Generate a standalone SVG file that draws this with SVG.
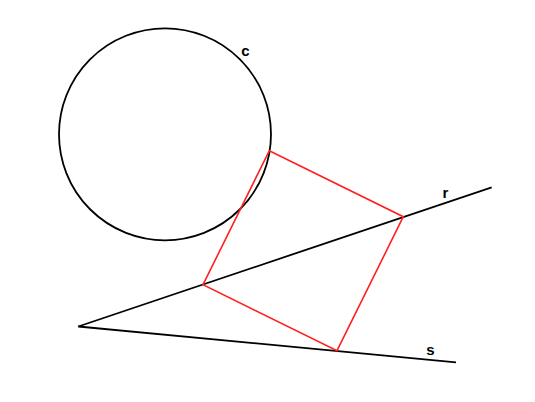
<svg xmlns="http://www.w3.org/2000/svg" width="535" height="402" viewBox="0 0 535 402">
<style>
.blk{fill:none;stroke:#000;stroke-width:1.8}
.red{fill:none;stroke:#ff2020;stroke-width:1.6;stroke-linejoin:miter}
.lbl{font-family:"Liberation Sans",Arial,sans-serif;font-weight:bold;font-size:15px;fill:#000;text-anchor:middle}
</style>
<rect width="535" height="402" fill="#fff"/>
<g id="circle-c">
<circle class="blk" cx="165" cy="134.3" r="106"/>
<text class="lbl" x="245.5" y="56">c</text>
</g>
<g id="connectors">
<line id="line-r" class="blk" x1="78.3" y1="326.5" x2="491.7" y2="187.3"/>
<line id="line-s" class="blk" x1="78.3" y1="326.5" x2="456" y2="362.3"/>
<polygon id="rhombus" class="red" points="269.3,150.7 403.3,216.7 337,350.7 203,284.7"/>
</g>
<g id="label-r"><text class="lbl" x="445.5" y="197.5">r</text></g>
<g id="label-s"><text class="lbl" x="430.5" y="355">s</text></g>
</svg>
